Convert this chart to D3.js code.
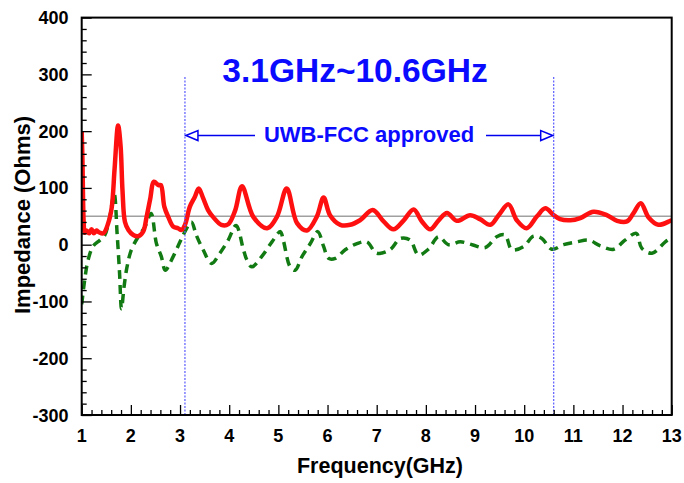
<!DOCTYPE html>
<html>
<head>
<meta charset="utf-8">
<script src="https://cdn.jsdelivr.net/npm/d3@7"></script>
<style>
  body { margin: 0; background: #fff; }
  text { font-family: "Liberation Sans", Arial, sans-serif; font-weight: bold; }
</style>
</head>
<body>
<div id="chart"></div>
<script>
const resistance = [
  [1.0, 200], [1.015, 150], [1.04, 40], [1.06, 21], [1.1, 25], [1.15, 20], [1.2, 27], [1.25, 20], [1.3, 25],
  [1.35, 22], [1.44, 20], [1.54, 38], [1.61, 65], [1.67, 135], [1.74, 210], [1.79, 175],
  [1.83, 95], [1.88, 40], [1.95, 26], [2.05, 17], [2.15, 15], [2.25, 23], [2.32, 49],
  [2.39, 79], [2.47, 111], [2.56, 105], [2.61, 105], [2.68, 67], [2.76, 49], [2.86, 32],
  [2.96, 29], [3.03, 26], [3.1, 35], [3.2, 67], [3.3, 84], [3.38, 99], [3.47, 82],
  [3.57, 61], [3.67, 49], [3.84, 35], [3.98, 36], [4.12, 60], [4.26, 103], [4.49, 49],
  [4.77, 29], [4.97, 49], [5.17, 99], [5.38, 38], [5.58, 25], [5.78, 49], [5.92, 83],
  [6.05, 52], [6.26, 35], [6.46, 35], [6.66, 43], [6.92, 61], [7.14, 41], [7.34, 27],
  [7.55, 43], [7.75, 62], [7.92, 41], [8.09, 27], [8.26, 43], [8.43, 56], [8.63, 42],
  [8.9, 52], [9.1, 45], [9.31, 35], [9.48, 52], [9.68, 71], [9.85, 43], [10.05, 29],
  [10.26, 50], [10.43, 64], [10.6, 52], [10.73, 45], [10.94, 43], [11.14, 47], [11.41, 58],
  [11.68, 52], [11.89, 42], [12.09, 41], [12.22, 55], [12.37, 73], [12.53, 48], [12.73, 35],
  [12.97, 42], [13.0, 43]
];

// imaginary part (dashed green)
const reactance = [
  [1.0, -105], [1.07, -56], [1.13, -27], [1.23, -3], [1.37, 8], [1.47, 17], [1.57, 49],
  [1.66, 90], [1.72, 20], [1.77, -50], [1.81, -113], [1.86, -75], [1.92, -40], [2.01, -9], [2.15, 14],
  [2.29, 32], [2.41, 55], [2.52, 2], [2.62, -21], [2.7, -45], [2.86, -21], [3.0, 5],
  [3.1, 23], [3.23, 40], [3.33, 17], [3.47, -9], [3.64, -33], [3.81, -15], [3.98, 8],
  [4.14, 34], [4.29, -9], [4.36, -27], [4.46, -39], [4.66, -21], [4.87, 5], [5.04, 23],
  [5.1, 8], [5.24, -39], [5.34, -45], [5.48, -21], [5.65, 2], [5.8, 23], [5.92, -3],
  [6.02, -24], [6.16, -24], [6.36, -9], [6.6, 2], [6.8, 5], [7.0, -15], [7.27, -9],
  [7.48, 11], [7.68, 8], [7.85, -18], [8.05, -8], [8.26, 14], [8.46, 0], [8.7, 5],
  [8.94, 0], [9.21, -5], [9.44, 14], [9.61, 17], [9.75, -9], [9.99, -3], [10.19, 15],
  [10.36, 11], [10.56, -8], [10.8, 0], [11.07, 5], [11.31, 8], [11.55, -2], [11.82, -8],
  [12.05, 8], [12.28, 20], [12.39, -6], [12.6, -15], [12.87, 5], [13.0, 12]
];

const xTicks = d3.range(1, 14);
const yTicks = d3.range(-300, 401, 100);
const bandEdges = [3.1, 10.6];
const refLevel = 50;
const bandTitle = '3.1GHz~10.6GHz';
const bandLabel = 'UWB-FCC approved';

const width = 684;
const height = 483;
const mLeft = 81.7, mRight = 671.7, mTop = 17.6, mBottom = 415;

const svg = d3.select('#chart').append('svg').attr('width', width).attr('height', height);

const x = d3.scaleLinear().domain([1, 13]).range([mLeft, mRight]);
const y = d3.scaleLinear().domain([-300, 400]).range([mBottom, mTop]);

svg.append('defs').append('clipPath').attr('id', 'plot')
  .append('rect').attr('x', mLeft).attr('y', mTop).attr('width', mRight - mLeft).attr('height', mBottom - mTop);

// 50 ohm reference
svg.append('line')
  .attr('x1', mLeft).attr('x2', mRight).attr('y1', y(refLevel)).attr('y2', y(refLevel))
  .attr('stroke', '#a0a0a0').attr('stroke-width', 1.5);

const line = d3.line().x(d => x(d[0])).y(d => y(d[1])).curve(d3.curveCatmullRom.alpha(0.5));

const curves = svg.append('g').attr('clip-path', 'url(#plot)');
curves.append('path').datum(reactance).attr('d', line)
  .attr('fill', 'none').attr('stroke', '#127a12').attr('stroke-width', 3.5)
  .attr('stroke-dasharray', '9,6');
curves.append('path').datum(resistance).attr('d', line)
  .attr('fill', 'none').attr('stroke', '#ff1010').attr('stroke-width', 4.5)
  .attr('stroke-linejoin', 'round');

// band edges
svg.selectAll('.edge').data(bandEdges).join('line').attr('class', 'edge')
  .attr('x1', d => x(d)).attr('x2', d => x(d)).attr('y1', 77).attr('y2', mBottom)
  .attr('stroke', '#5a5aff').attr('stroke-width', 1.2).attr('stroke-dasharray', '2,1.5');

// arrows
const arrowY = 135.5;
const arrows = svg.append('g').attr('stroke', '#0000ee').attr('stroke-width', 1.5).attr('fill', '#fff');
arrows.append('line').attr('x1', x(3.1) + 12).attr('x2', 255).attr('y1', arrowY).attr('y2', arrowY);
arrows.append('path').attr('d', `M${x(3.1) + 1},${arrowY} l12,-5 v10 z`);
arrows.append('line').attr('x1', 486).attr('x2', x(10.6) - 13).attr('y1', arrowY).attr('y2', arrowY);
arrows.append('path').attr('d', `M${x(10.6) - 1},${arrowY} l-12,-5 v10 z`);

svg.append('text').attr('x', 355).attr('y', 82).attr('text-anchor', 'middle')
  .attr('font-size', 33.5).attr('fill', '#0a0aff').text(bandTitle);
svg.append('text').attr('x', 369).attr('y', 142).attr('text-anchor', 'middle')
  .attr('font-size', 22).attr('fill', '#0a0aff').text(bandLabel);

// frame
svg.append('rect').attr('x', mLeft).attr('y', mTop).attr('width', mRight - mLeft).attr('height', mBottom - mTop)
  .attr('fill', 'none').attr('stroke', '#000').attr('stroke-width', 2);

// x axis, inward ticks
const xAxis = svg.append('g').attr('transform', `translate(0,${mBottom})`);
xAxis.call(d3.axisBottom(x).tickValues(d3.range(1, 13.01, 0.2)).tickSize(-5).tickFormat(''));
xAxis.call(g => g.selectAll('.tick line').filter(d => Math.abs(d - Math.round(d)) < 1e-6).attr('y2', -10));
xAxis.select('.domain').remove();
xAxis.selectAll('.tick line').attr('stroke', '#000').attr('stroke-width', 1.3);
svg.append('g').selectAll('text').data(xTicks).join('text')
  .attr('x', d => x(d)).attr('y', 442).attr('text-anchor', 'middle').attr('font-size', 18).text(d => d);

// y axis, inward ticks
const yAxis = svg.append('g').attr('transform', `translate(${mLeft},0)`);
yAxis.call(d3.axisLeft(y).tickValues(d3.range(-300, 401, 20)).tickSize(-5).tickFormat(''));
yAxis.call(g => g.selectAll('.tick line').filter(d => d % 100 === 0).attr('x2', 10));
yAxis.select('.domain').remove();
yAxis.selectAll('.tick line').attr('stroke', '#000').attr('stroke-width', 1.3);
svg.append('g').selectAll('text').data(yTicks).join('text')
  .attr('x', 68.5).attr('y', d => y(d) + 6.5).attr('text-anchor', 'end').attr('font-size', 18).text(d => d);

svg.append('text').attr('x', 380).attr('y', 473).attr('text-anchor', 'middle')
  .attr('font-size', 21.5).text('Frequency(GHz)');
svg.append('text').attr('transform', `translate(29.5,215) rotate(-90)`).attr('text-anchor', 'middle')
  .attr('font-size', 22).text('Impedance (Ohms)');
</script>
</body>
</html>
